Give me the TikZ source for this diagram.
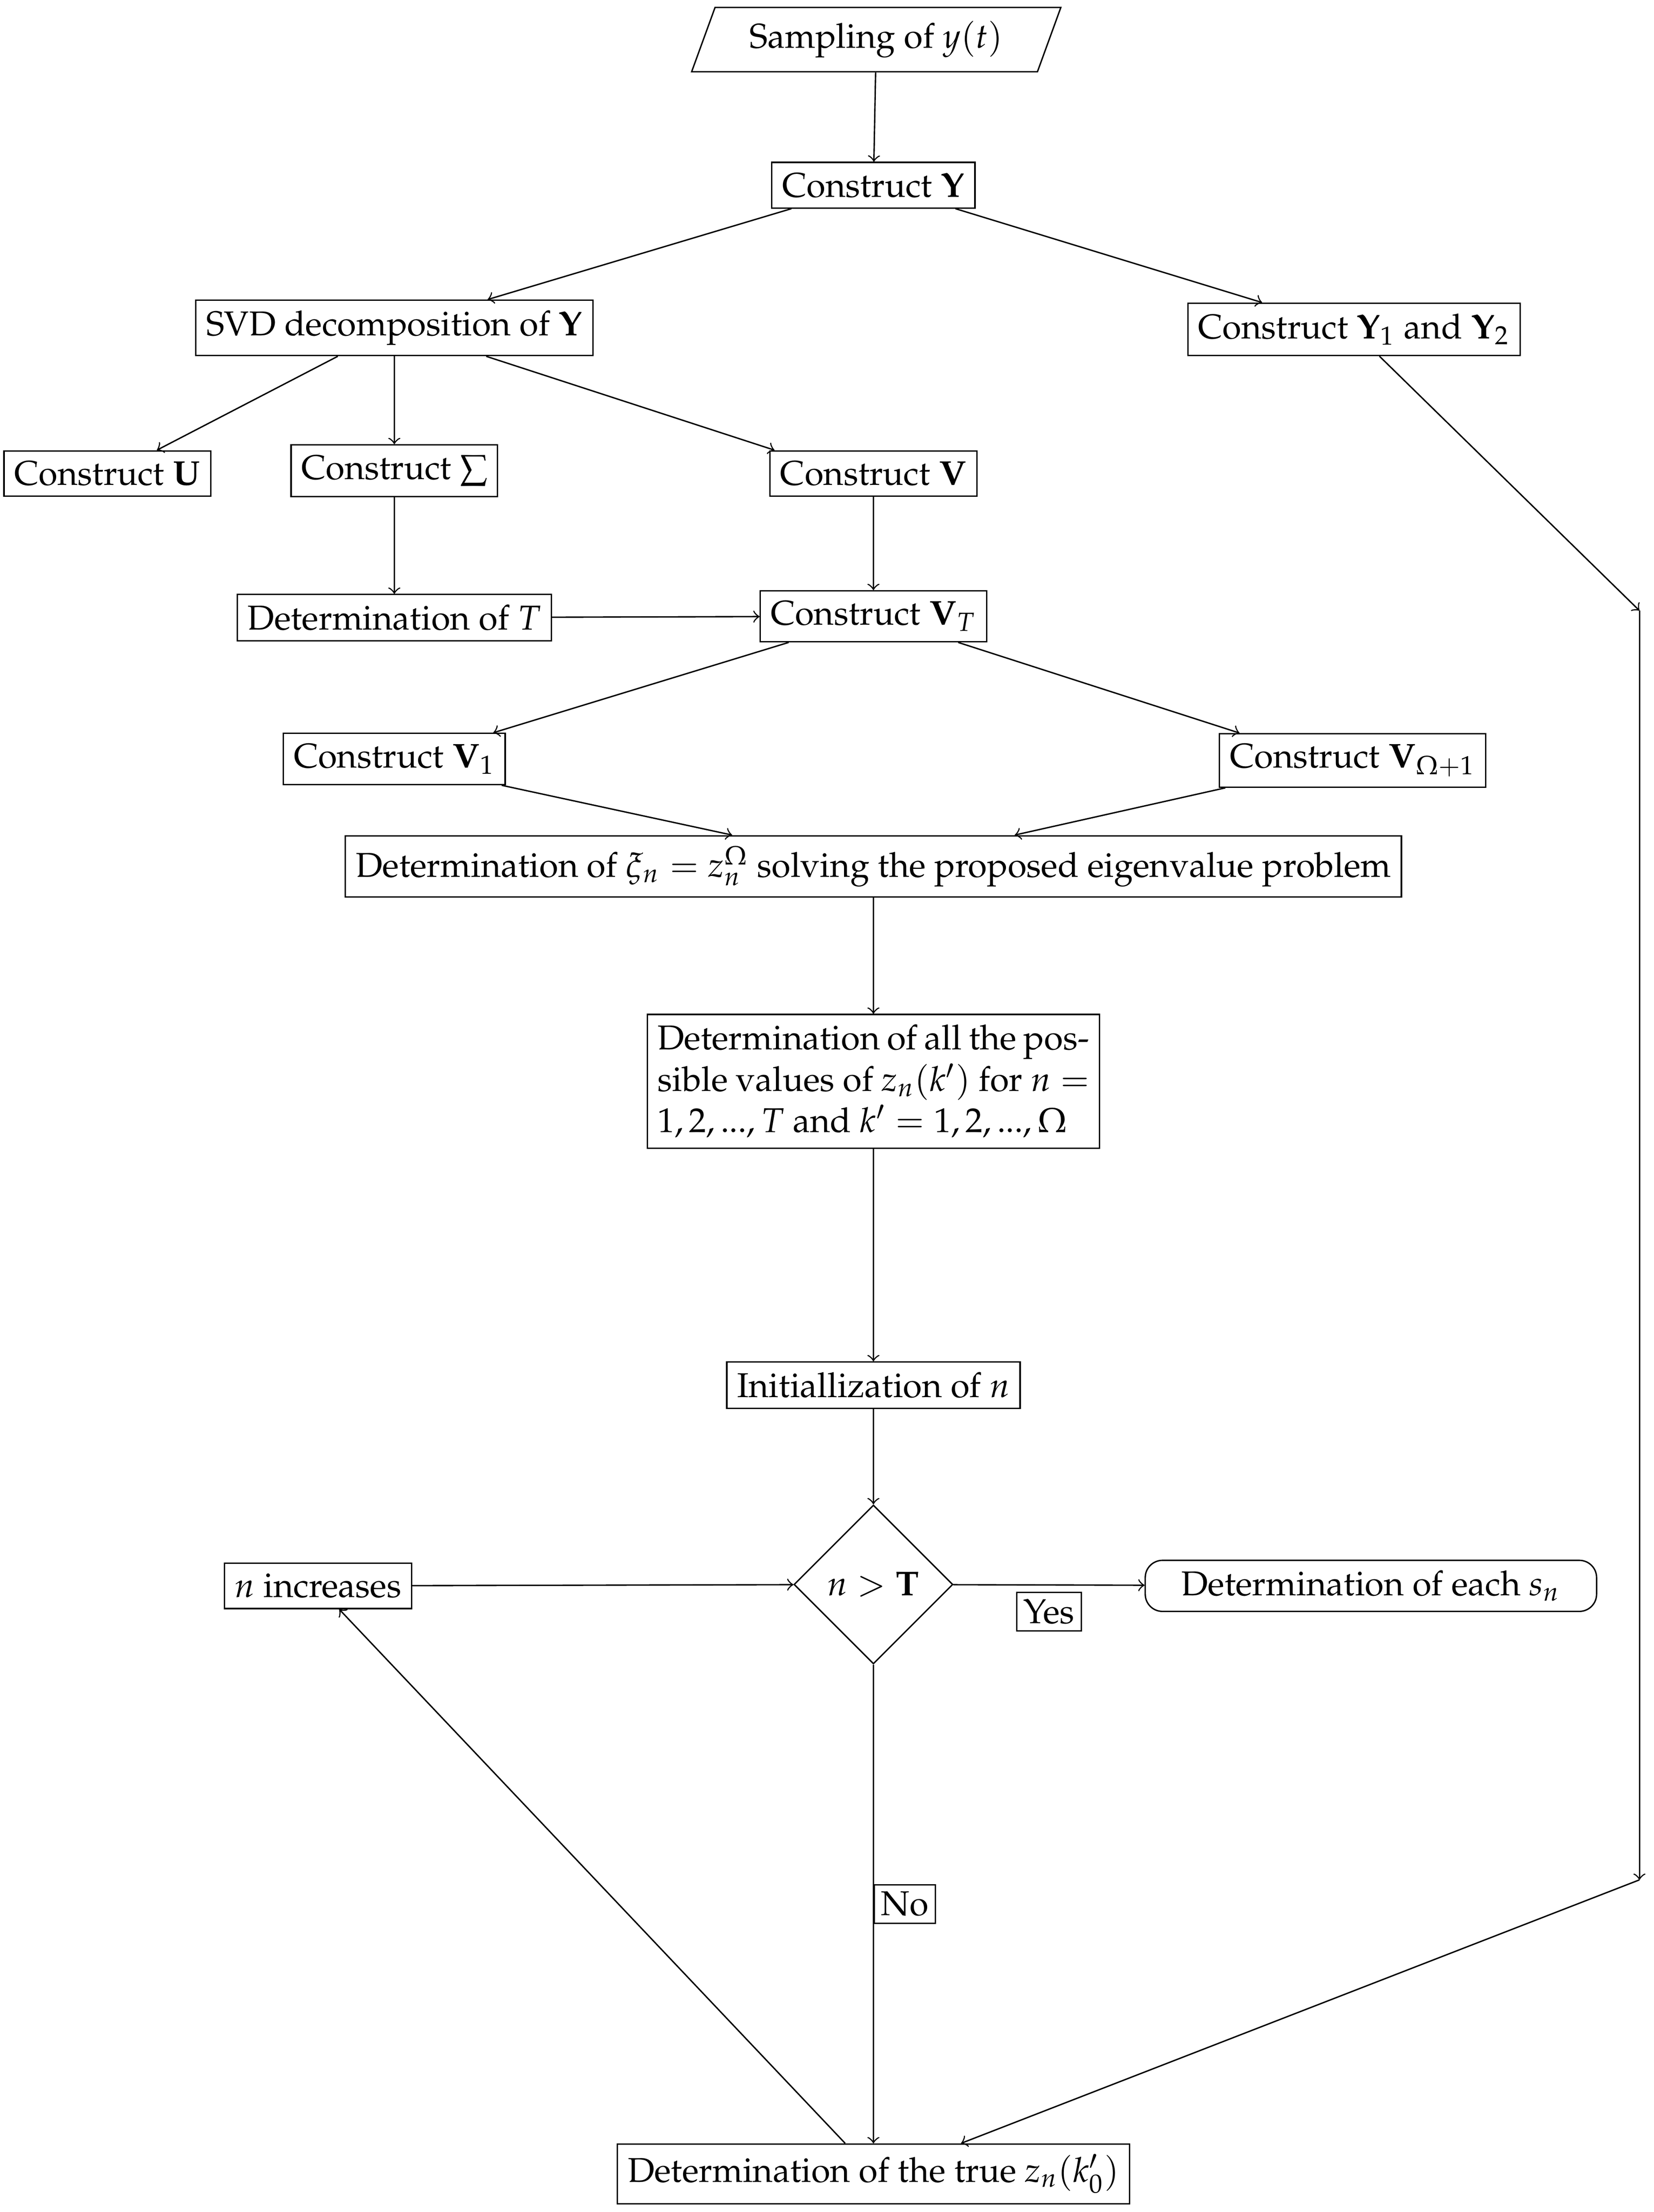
\documentclass[tikz,border=0pt]{standalone}
\usepackage[T1]{fontenc}
\usepackage{mathpazo}
\usetikzlibrary{shapes.geometric,calc}
\begin{document}
\begin{tikzpicture}[x=0.0144cm, y=-0.0144cm, ->,
  box/.style={draw, rectangle, inner sep=3pt, font=\normalsize},
  io/.style={draw, trapezium, trapezium left angle=70, trapezium right angle=110, inner xsep=10pt, inner ysep=4pt},
  decision/.style={draw, diamond, aspect=1, minimum width=1.62cm, minimum height=1.62cm, inner sep=0pt},
  term/.style={draw, rectangle, rounded corners=5pt, inner sep=3pt, minimum width=4.6cm},
  tag/.style={draw, rectangle, inner sep=2pt, fill=white}]
  \useasboundingbox (0,0) rectangle (1170,1565);

  \node[io] (sample) at (620,28) {Sampling of $y(t)$};
  \node[box] (Y) at (618,131) {Construct $\mathbf{Y}$};
  \node[box] (svd) at (279,232) {SVD decomposition of $\mathbf{Y}$};
  \node[box] (Y12) at (958,233) {Construct $\mathbf{Y}_1$ and $\mathbf{Y}_2$};
  \node[box] (U) at (76,335) {Construct $\mathbf{U}$};
  \node[box] (S) at (279,333) {Construct $\sum$};
  \node[box] (V) at (618,335) {Construct $\mathbf{V}$};
  \node[box] (T) at (279,437) {Determination of $T$};
  \node[box] (VT) at (618,436) {Construct $\mathbf{V}_T$};
  \node[box] (V1) at (279,537) {Construct $\mathbf{V}_1$};
  \node[box] (VO) at (957,538) {Construct $\mathbf{V}_{\Omega+1}$};
  \node[box] (xi) at (618,613) {Determination of $\xi_n = z_n^{\Omega}$ solving the proposed eigenvalue problem};
  \node[box, text width=4.4cm, align=justify] (all) at (618,765) {Determination of all the possible values of $z_n(k')$ for $n=1,2,...,T$ and $k'=1,2,...,\Omega$};
  \node[box] (init) at (618,980) {Initiallization of $n$};
  \node[decision] (dia) at (618,1121) {$n>\mathbf{T}$};
  \node[box] (inc) at (225,1122) {$n$ increases};
  \node[term] (each) at (970,1122) {Determination of each $s_n$};
  \node[box] (true) at (618,1538) {Determination of the true $z_n(k'_0)$};
  \coordinate (c1) at (1160,432);
  \coordinate (c2) at (1160,1330);

  \draw (sample) -- (Y);
  \draw ($(Y.south)+(-58,0)$) -- ($(svd.north)+(66,0)$);
  \draw ($(Y.south)+(58,0)$) -- ($(Y12.north)+(-65,0)$);
  \draw ($(svd.south)+(-40,0)$) -- ($(U.north)+(35,0)$);
  \draw (svd) -- (S);
  \draw ($(svd.south)+(65,0)$) -- ($(V.north)+(-70,0)$);
  \draw (S) -- (T);
  \draw (V) -- (VT);
  \draw (T) -- (VT);
  \draw ($(VT.south)+(-60,0)$) -- ($(V1.north)+(70,0)$);
  \draw ($(VT.south)+(60,0)$) -- ($(VO.north)+(-80,0)$);
  \draw ($(V1.south)+(76,0)$) -- ($(xi.north)+(-100,0)$);
  \draw ($(VO.south)+(-90,0)$) -- ($(xi.north)+(100,0)$);
  \draw (xi) -- (all);
  \draw (all) -- (init);
  \draw (init) -- (dia);
  \draw (inc) -- (dia);
  \draw (dia) -- node[tag, pos=0.5, below=2pt] {Yes} (each);
  \draw (dia) -- node[tag, pos=0.5, right=0pt] {No} (true);
  \draw ($(true.north)+(-20,0)$) -- ($(inc.south)+(15,0)$);
  \draw ($(Y12.south)+(18,0)$) -- (c1);
  \draw (c1) -- (c2);
  \draw (c2) -- ($(true.north)+(62,0)$);
\end{tikzpicture}
\end{document}
